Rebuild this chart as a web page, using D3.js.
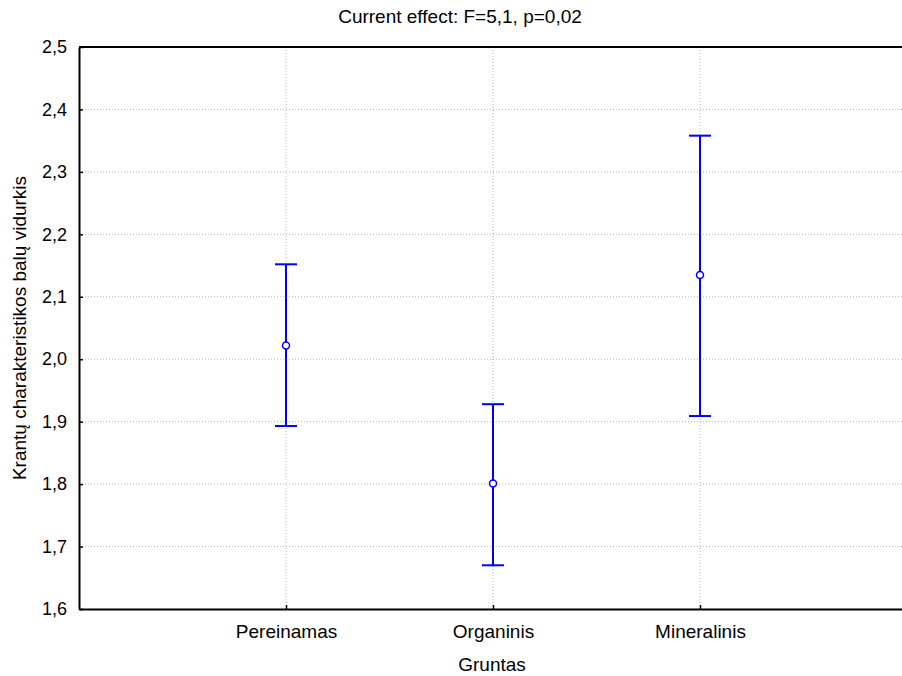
<!DOCTYPE html>
<html><head><meta charset="utf-8">
<script src="https://cdn.jsdelivr.net/npm/d3@7"></script>
<style>
body{margin:0;background:#fff;}
text{font-family:"Liberation Sans",Arial,sans-serif;fill:#000;}
</style></head>
<body><svg id="c" width="902" height="676"></svg>
<script>
const categories = ["Pereinamas","Organinis","Mineralinis"];
const means = [2.022, 1.801, 2.135];
const upper = [2.152, 1.928, 2.358];
const lower = [1.893, 1.670, 1.909];
const yTicks = [1.6,1.7,1.8,1.9,2.0,2.1,2.2,2.3,2.4,2.5];
const title = "Current effect: F=5,1, p=0,02";
const xTitle = "Gruntas";
const yTitle = "Krantų charakteristikos balų vidurkis";

const svg = d3.select("#c");
const L=79, R=907, T=47, B=609;
const x = d3.scaleLinear().domain([0,4]).range([L,R]);
const y = d3.scaleLinear().domain([1.6,2.5]).range([B,T]);
const fmt = v => d3.format(".1f")(v).replace(".",",");
const FF = "Liberation Sans, Arial, sans-serif";

// grid
const g = svg.append("g");
g.selectAll(".hg").data(yTicks.slice(1,-1)).join("line")
  .attr("x1",L).attr("x2",R).attr("y1",d=>y(d)).attr("y2",d=>y(d))
  .attr("stroke","#b4b4b4").attr("stroke-width",1).attr("stroke-dasharray","1,2");
g.selectAll(".vg").data(categories).join("line")
  .attr("x1",(d,i)=>x(i+1)).attr("x2",(d,i)=>x(i+1)).attr("y1",T).attr("y2",B)
  .attr("stroke","#b4b4b4").attr("stroke-width",1).attr("stroke-dasharray","1,2");

// axes
const yAxis = d3.axisLeft(y).tickValues(yTicks).tickFormat(fmt).tickSizeInner(-4).tickSizeOuter(0).tickPadding(12);
const ya = svg.append("g").attr("transform",`translate(${L},0)`).call(yAxis);
ya.select(".domain").attr("stroke","#000").attr("stroke-width",2);
ya.selectAll(".tick line").attr("stroke","#000").attr("stroke-width",1.5);
ya.selectAll("text").attr("font-size",18).attr("font-family",FF).attr("fill","#000");

const xAxis = d3.axisBottom(x).tickValues([1,2,3]).tickFormat(d=>categories[d-1]).tickSizeInner(-4).tickSizeOuter(0).tickPadding(16);
const xa = svg.append("g").attr("transform",`translate(0,${B})`).call(xAxis);
xa.select(".domain").attr("stroke","#000").attr("stroke-width",2);
xa.selectAll(".tick line").attr("stroke","#000").attr("stroke-width",1.5);
xa.selectAll("text").attr("font-size",19).attr("font-family",FF).attr("fill","#000");

// top frame
svg.append("line").attr("x1",L).attr("x2",R).attr("y1",T).attr("y2",T).attr("stroke","#000").attr("stroke-width",2);

// error bars
const eb = svg.append("g");
categories.forEach((c,i)=>{
  const cx = x(i+1);
  eb.append("line").attr("x1",cx).attr("x2",cx).attr("y1",y(upper[i])).attr("y2",y(lower[i]))
    .attr("stroke","#0000ff").attr("stroke-width",2);
  [upper[i],lower[i]].forEach(v=>{
    eb.append("line").attr("x1",cx-11).attr("x2",cx+11).attr("y1",y(v)).attr("y2",y(v))
      .attr("stroke","#0000ff").attr("stroke-width",2);
  });
  eb.append("circle").attr("cx",cx).attr("cy",y(means[i])).attr("r",3.5)
    .attr("fill","#fff").attr("stroke","#0000ff").attr("stroke-width",1.5);
});

// titles
svg.append("text").attr("x",460).attr("y",23).attr("text-anchor","middle").attr("font-size",19).text(title);
svg.append("text").attr("x",492).attr("y",671).attr("text-anchor","middle").attr("font-size",19).text(xTitle);
svg.append("text").attr("transform",`translate(26,${(T+B)/2}) rotate(-90)`).attr("text-anchor","middle").attr("font-size",19).text(yTitle);
</script></body></html>
